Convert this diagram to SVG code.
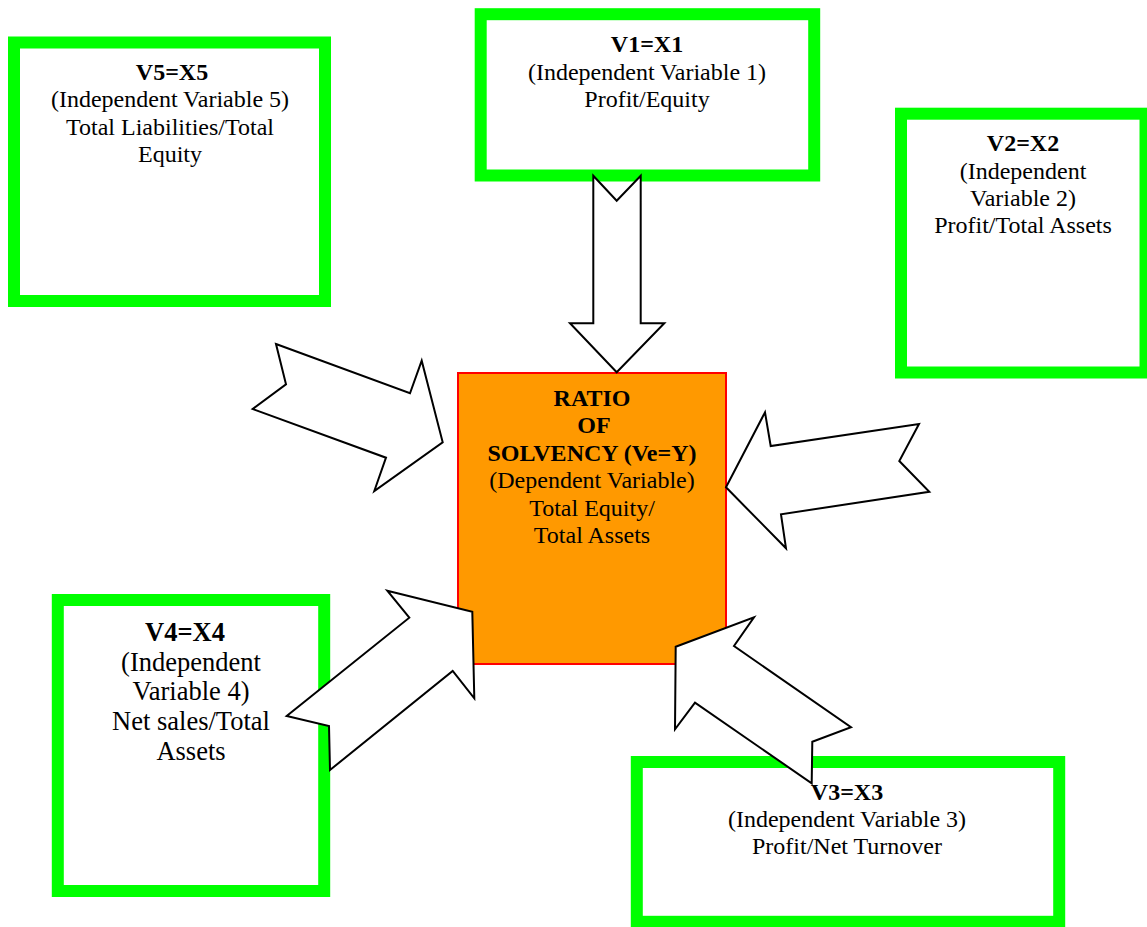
<svg xmlns="http://www.w3.org/2000/svg" width="1147" height="927" viewBox="0 0 1147 927">
<style>
.box{fill:#ffffff;stroke:#00ff00;stroke-width:12}
.dep{fill:#ff9900;stroke:#ff0000;stroke-width:2}
.arr{fill:#ffffff;stroke:#000000;stroke-width:2;stroke-linejoin:miter}
text{font-family:"Liberation Serif","Times New Roman",serif;font-size:24px;fill:#000000;text-anchor:middle}
.b{font-weight:bold}
.big{font-size:26.5px}
</style>
<rect x="0" y="0" width="1147" height="927" fill="#ffffff"/>
<g id="node-v5">
<rect class="box" x="14" y="42.5" width="311" height="258.5"/>
<text class="b" x="172" y="80">V5=X5</text>
<text x="170" y="107">(Independent Variable 5)</text>
<text x="170" y="135">Total Liabilities/Total</text>
<text x="170" y="162">Equity</text>
</g>
<g id="node-v1">
<rect class="box" x="480.7" y="14.2" width="333.5" height="161.3"/>
<text class="b" x="647" y="52">V1=X1</text>
<text x="647" y="80">(Independent Variable 1)</text>
<text x="647" y="107">Profit/Equity</text>
</g>
<g id="node-v2">
<rect class="box" x="901" y="113.7" width="244.5" height="258.8"/>
<text class="b" x="1023" y="151">V2=X2</text>
<text x="1023" y="179">(Independent</text>
<text x="1023" y="206">Variable 2)</text>
<text x="1023" y="233">Profit/Total Assets</text>
</g>
<g id="node-v4">
<rect class="box" x="57.8" y="600" width="266.4" height="291"/>
<text class="b big" x="185" y="641">V4=X4</text>
<text class="big" x="191" y="671">(Independent</text>
<text class="big" x="191" y="700">Variable 4)</text>
<text class="big" x="191" y="730">Net sales/Total</text>
<text class="big" x="191" y="760">Assets</text>
</g>
<g id="node-v3">
<rect class="box" x="636.8" y="762" width="422.4" height="159.8"/>
<text class="b" x="847" y="800">V3=X3</text>
<text x="847" y="827">(Independent Variable 3)</text>
<text x="847" y="854">Profit/Net Turnover</text>
</g>
<g id="node-y">
<rect class="dep" x="458" y="373" width="268" height="291"/>
<text class="b" x="592" y="406">RATIO</text>
<text class="b" x="594" y="433">OF</text>
<text class="b" x="592" y="461">SOLVENCY (Ve=Y)</text>
<text x="592" y="488">(Dependent Variable)</text>
<text x="592" y="516">Total Equity/</text>
<text x="592" y="543">Total Assets</text>
</g>
<g id="connectors">
<polygon class="arr" points="593.3,175.7 616.7,200.7 640.7,175.7 640.7,323.3 664.3,323.3 616.7,372.3 570,323.3 593.3,323.3"/>
<polygon class="arr" points="276,344 410,393.3 421.7,360.7 442.7,442.3 374.3,491 386,457.7 252.7,409 286,384.3"/>
<polygon class="arr" points="726,487.3 765,412.3 770.7,446 919,424 899.3,461 929.3,491.7 781,514.3 786,548.3"/>
<polygon class="arr" points="387.3,590.7 472.3,611.7 474.3,698.3 452.7,671 330,770 329,726 286.7,716 409.3,617.7"/>
<polygon class="arr" points="675.7,646.7 754,617.3 734,646 851,727.3 812.3,741.7 811.7,783.3 695,702.7 675,729.3"/>
</g>
</svg>
